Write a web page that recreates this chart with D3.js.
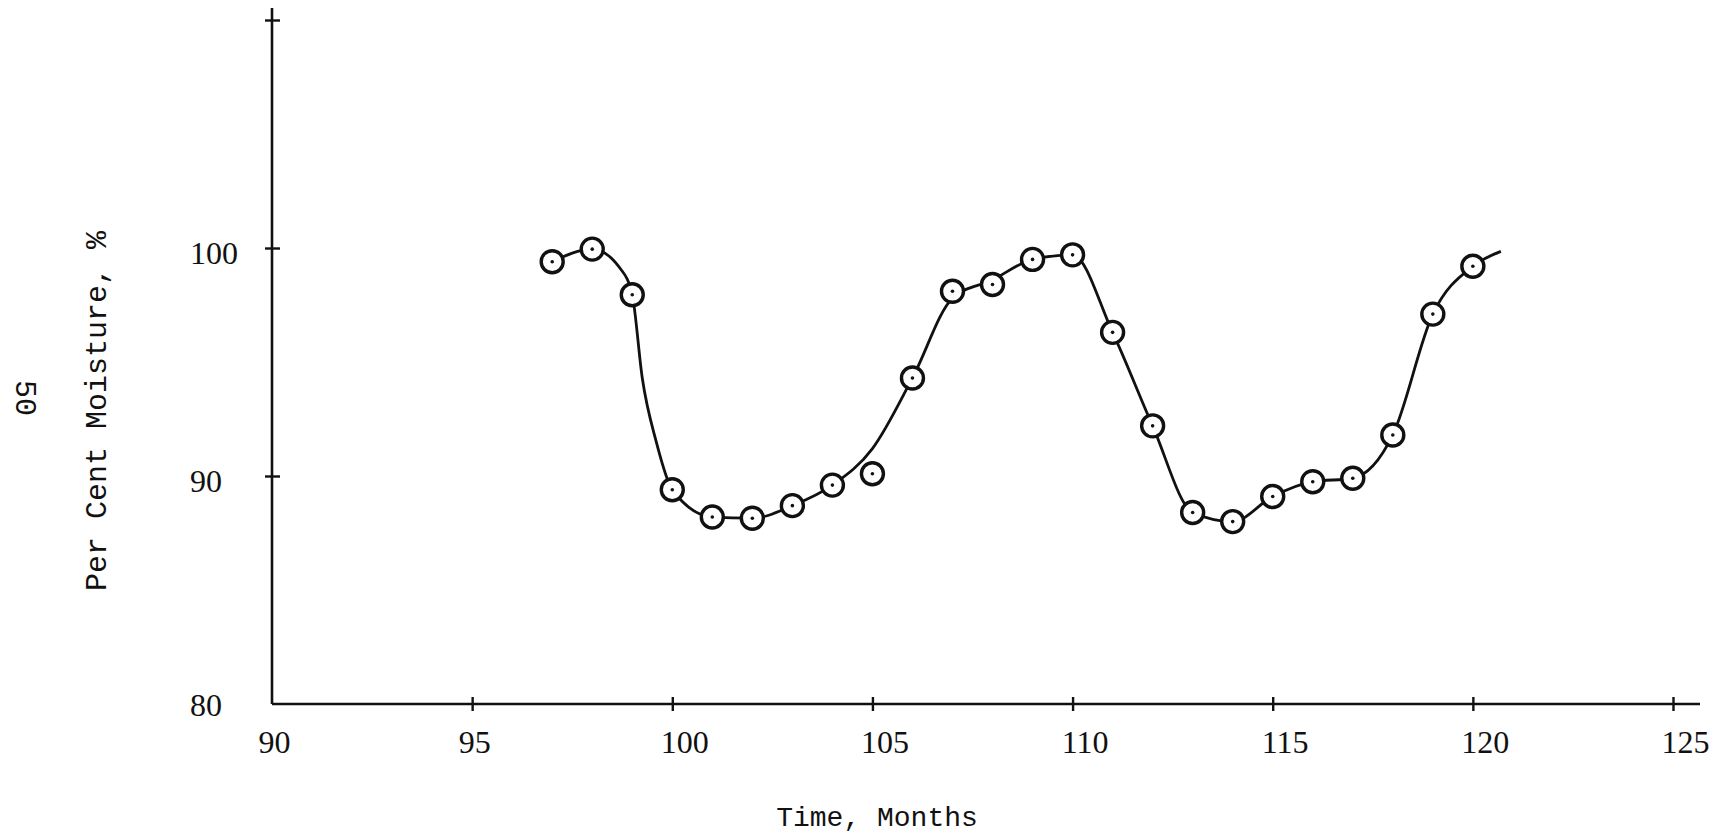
<!DOCTYPE html>
<html>
<head>
<meta charset="utf-8">
<script src="https://cdn.jsdelivr.net/npm/d3@7"></script>
<style>
  html, body { margin: 0; padding: 0; background: #fff; }
  svg { display: block; }
</style>
</head>
<body>
<div id="chart"></div>
<script>
// ==== Data ====
const months   = [97, 98, 99, 100, 101, 102, 103, 104, 105, 106, 107, 108,
                  109, 110, 111, 112, 113, 114, 115, 116, 117, 118, 119, 120];
const moisture = [99.4, 99.95, 97.95, 89.4, 88.2, 88.15, 88.7, 89.6, 90.1, 94.3, 98.1, 98.4,
                  99.5, 99.7, 96.3, 92.2, 88.4, 88.0, 89.1, 89.75, 89.9, 91.8, 97.1, 99.2];

// hand-drawn smooth curve, read at its knots
const curveMonths = [97, 98, 98.7, 99, 99.25, 99.6, 100, 101, 102, 103, 104, 105, 106, 107, 108,
                     109, 110, 111, 112, 113, 114, 115, 116, 117, 118, 119, 120, 120.7];
const curveValues = [99.4, 99.95, 99.1, 97.95, 94.3, 91.5, 89.4, 88.2, 88.15, 88.7, 89.6, 91.2, 94.3, 97.8, 98.6,
                     99.5, 99.7, 96.3, 92.2, 88.4, 88.0, 89.1, 89.75, 89.9, 91.8, 97.1, 99.2, 99.85];

const xTicks = [90, 95, 100, 105, 110, 115, 120, 125];
const yTicks = [80, 90, 100, 110];
const yLabels = { 80: "80", 90: "90", 100: "100" };   // top tick has no label

// ==== Setup ====
const width = 1724, height = 838;
const svg = d3.select("#chart").append("svg")
  .attr("width", width)
  .attr("height", height);

svg.append("rect").attr("width", width).attr("height", height).attr("fill", "#fff");

const x = d3.scaleLinear().domain([90, 125]).range([272, 1673]);
const y = d3.scaleLinear().domain([80, 110]).range([704, 20]);

const ink = "#111";
const typeFont = "'Liberation Mono', 'DejaVu Sans Mono', monospace";
const digitFont = "'Liberation Serif', 'DejaVu Serif', serif";

// ==== Axes ====
const x0 = x(90), yBase = y(80);

// y axis
svg.append("line")
  .attr("x1", x0).attr("x2", x0)
  .attr("y1", y(110) - 12).attr("y2", yBase)
  .attr("stroke", ink).attr("stroke-width", 2.6);

// x axis
svg.append("line")
  .attr("x1", x0).attr("x2", x(125) + 27)
  .attr("y1", yBase).attr("y2", yBase)
  .attr("stroke", ink).attr("stroke-width", 2.6);

const xAxis = svg.append("g")
  .attr("transform", `translate(0,${yBase})`)
  .call(d3.axisBottom(x).tickValues(xTicks).tickSize(7).tickFormat(d3.format("d")));
xAxis.select(".domain").remove();
xAxis.selectAll(".tick line")
  .attr("y1", -7).attr("y2", 7)
  .attr("stroke", ink).attr("stroke-width", 2.4)
  .filter(d => d === 90).remove();
xAxis.selectAll(".tick text")
  .attr("y", 49).attr("dy", 0)
  .attr("dx", d => String(d).length > 2 ? 12 : 2)
  .attr("fill", ink)
  .style("font-family", digitFont)
  .style("font-size", "32px");

const yAxis = svg.append("g")
  .attr("transform", `translate(${x0},0)`)
  .call(d3.axisLeft(y).tickValues(yTicks).tickSize(7).tickFormat(d => yLabels[d] || ""));
yAxis.select(".domain").remove();
yAxis.selectAll(".tick line")
  .attr("x1", -7).attr("x2", 8)
  .attr("stroke", ink).attr("stroke-width", 2.4)
  .filter(d => d === 80).remove();
yAxis.selectAll(".tick text")
  .attr("text-anchor", "start")
  .attr("x", -82).attr("dy", "0.62em").attr("y", d => d === 80 ? -8 : -4)
  .attr("fill", ink)
  .style("font-family", digitFont)
  .style("font-size", "32px");

// ==== Axis titles ====
svg.append("text")
  .attr("x", 877).attr("y", 826)
  .attr("text-anchor", "middle")
  .attr("fill", ink)
  .style("font-family", typeFont)
  .style("font-size", "28px")
  .text("Time, Months");

svg.append("text")
  .attr("transform", "translate(106,411) rotate(-90)")
  .attr("text-anchor", "middle")
  .attr("fill", ink)
  .style("font-family", typeFont)
  .style("font-size", "30px")
  .text("Per Cent Moisture, %");

// page number, sideways
svg.append("text")
  .attr("transform", "translate(16,398) rotate(90)")
  .attr("text-anchor", "middle")
  .attr("fill", ink)
  .style("font-family", typeFont)
  .style("font-size", "30px")
  .text("50");

// ==== Curve ====
const curveData = curveMonths.map((m, i) => ({ m, v: curveValues[i] }));
const line = d3.line()
  .x(d => x(d.m))
  .y(d => y(d.v))
  .curve(d3.curveMonotoneX);

svg.append("path")
  .datum(curveData)
  .attr("d", line)
  .attr("fill", "none")
  .attr("stroke", ink)
  .attr("stroke-width", 2.8);

// ==== Points ====
const pts = svg.append("g").selectAll("g")
  .data(months.map((m, i) => ({ m, v: moisture[i] })))
  .join("g")
  .attr("transform", d => `translate(${x(d.m)},${y(d.v)})`);

pts.append("circle")
  .attr("r", 11)
  .attr("fill", "#fff")
  .attr("stroke", ink)
  .attr("stroke-width", 3.4);

pts.append("circle")
  .attr("r", 1.8)
  .attr("fill", ink);
</script>
</body>
</html>
